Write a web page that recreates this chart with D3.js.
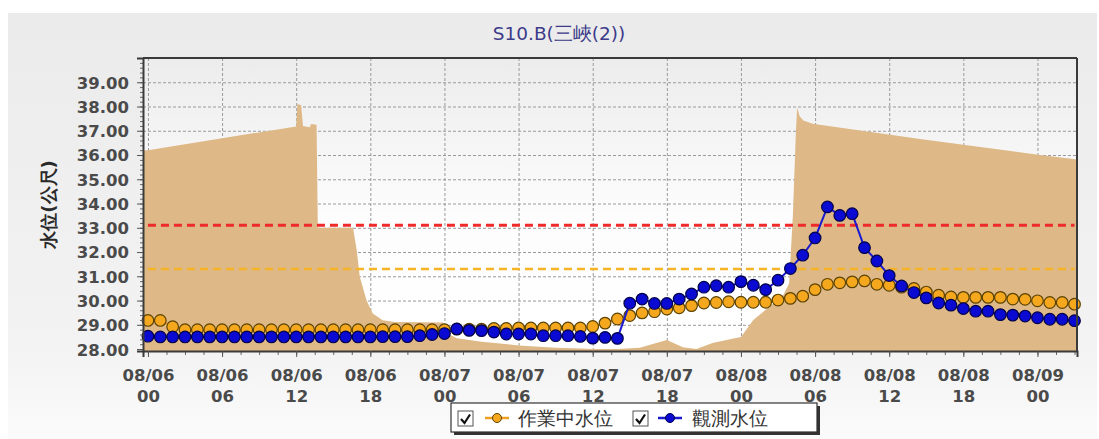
<!DOCTYPE html>
<html>
<head>
<meta charset="utf-8">
<script src="https://cdn.jsdelivr.net/npm/d3@7"></script>
<style>
  html, body { margin: 0; padding: 0; background: #ffffff; }
  svg { display: block; }
  text { font-family: "DejaVu Sans", Verdana, sans-serif; }
</style>
</head>
<body>
<svg id="chart" width="1099" height="439"></svg>
<script>
// ---------------- data ----------------
const title = "S10.B(三峽(2))";
const yLabel = "水位(公尺)";
const seriesNames = ["作業中水位", "觀測水位"];

// hours since 08/06 00:00, hourly points
const hours = d3.range(0, 76);

const workLevel = [
  29.18, 29.18, 28.92, 28.80, 28.80, 28.80, 28.80, 28.80, 28.80, 28.80,
  28.80, 28.80, 28.80, 28.80, 28.80, 28.80, 28.80, 28.80, 28.80, 28.80,
  28.80, 28.80, 28.80, 28.80, 28.80, 28.82, 28.82, 28.82, 28.85, 28.85,
  28.87, 28.87, 28.87, 28.87, 28.87, 28.87, 28.93, 29.07, 29.24, 29.38,
  29.49, 29.54, 29.65, 29.70, 29.79, 29.90, 29.92, 29.95, 29.93, 29.93,
  29.93, 30.02, 30.09, 30.18, 30.45, 30.67, 30.73, 30.77, 30.81, 30.67,
  30.63, 30.55, 30.50, 30.35, 30.22, 30.15, 30.13, 30.13, 30.13, 30.13,
  30.06, 30.05, 29.99, 29.92, 29.92, 29.85
];

const observedLevel = [
  28.53, 28.50, 28.50, 28.50, 28.50, 28.50, 28.50, 28.50, 28.50, 28.50,
  28.50, 28.50, 28.50, 28.50, 28.50, 28.50, 28.50, 28.50, 28.50, 28.51,
  28.51, 28.51, 28.55, 28.60, 28.64, 28.83, 28.77, 28.76, 28.70, 28.62,
  28.62, 28.62, 28.55, 28.55, 28.55, 28.52, 28.45, 28.48, 28.44, 29.89,
  30.06, 29.88, 29.88, 30.06, 30.27, 30.55, 30.61, 30.55, 30.78, 30.63,
  30.45, 30.84, 31.32, 31.87, 32.58, 33.86, 33.51, 33.58, 32.18, 31.63,
  31.03, 30.60, 30.33, 30.11, 29.90, 29.81, 29.67, 29.56, 29.56, 29.42,
  29.40, 29.36, 29.29, 29.23, 29.23, 29.17
];

// background (unlabelled) area series: hour, value
const areaHours = [
  -0.4, 0, 12.0, 12.1, 12.4, 12.55, 13.1, 13.2, 13.65, 13.75,
  16.6, 16.9, 17.15, 17.7, 18.2, 19.0, 20.0, 23.9, 24.1, 24.6,
  25.0, 26.0, 27.0, 28.5, 30.0, 31.0, 33.0, 35.0, 36.0, 38.0,
  39.8, 42.0, 43.3, 44.4, 45.7, 47.3, 48.0, 48.5, 49.0, 50.3,
  51.4, 51.9, 52.2, 52.45, 52.55, 52.75, 53.05, 53.8, 62.5, 71.9,
  75.2
];
const areaValues = [
  36.19, 36.20, 37.18, 38.10, 38.05, 37.20, 37.15, 37.28, 37.25, 33.00,
  33.00, 32.07, 30.97, 30.00, 29.47, 29.19, 29.12, 29.10, 28.60, 28.55,
  28.45, 28.37, 28.30, 28.23, 28.15, 28.12, 28.05, 28.02, 28.00, 28.00,
  28.05, 28.37, 28.07, 28.00, 28.25, 28.42, 28.50, 28.85, 29.20, 29.74,
  30.20, 30.70, 33.50, 37.00, 37.95, 37.60, 37.42, 37.29, 36.66, 36.02,
  35.82
];

// threshold lines
const warnLevels = [33.1, 31.3];
const warnColors = ["#ee2a2a", "#f5b325"];

// axis ticks
const yTicks = [28, 29, 30, 31, 32, 33, 34, 35, 36, 37, 38, 39];
const xTickHours = [0, 6, 12, 18, 24, 30, 36, 42, 48, 54, 60, 66, 72];
const xTickDates = ["08/06","08/06","08/06","08/06","08/07","08/07","08/07","08/07","08/08","08/08","08/08","08/08","08/09"];
const xTickTimes = ["00","06","12","18","00","06","12","18","00","06","12","18","00"];

// ---------------- layout ----------------
const svg = d3.select("#chart");
const plot = { left: 143, right: 1077, top: 58, bottom: 351 };

const x = d3.scaleLinear().domain([-0.4, 75.2]).range([plot.left, plot.right]);
const y = d3.scaleLinear().domain([27.92, 40]).range([plot.bottom, plot.top]);

const defs = svg.append("defs");
const bgGrad = defs.append("linearGradient").attr("id", "bgGrad").attr("x1", 0).attr("y1", 0).attr("x2", 0).attr("y2", 1);
bgGrad.append("stop").attr("offset", "0%").attr("stop-color", "#ebebeb");
bgGrad.append("stop").attr("offset", "80%").attr("stop-color", "#f3f3f3");
bgGrad.append("stop").attr("offset", "100%").attr("stop-color", "#fbfbfb");
const plotGrad = defs.append("linearGradient").attr("id", "plotGrad").attr("x1", 0).attr("y1", 0).attr("x2", 0).attr("y2", 1);
plotGrad.append("stop").attr("offset", "0%").attr("stop-color", "#ececec");
plotGrad.append("stop").attr("offset", "55%").attr("stop-color", "#fdfdfd");
plotGrad.append("stop").attr("offset", "100%").attr("stop-color", "#ffffff");

// outer panel
svg.append("rect").attr("x", 8).attr("y", 13).attr("width", 1089).attr("height", 426).attr("fill", "url(#bgGrad)");

// plot background
svg.append("rect")
  .attr("x", plot.left).attr("y", plot.top)
  .attr("width", plot.right - plot.left).attr("height", plot.bottom - plot.top)
  .attr("fill", "url(#plotGrad)");

// gridlines
const gridY = svg.append("g").attr("transform", `translate(${plot.left},0)`)
  .call(d3.axisLeft(y).tickValues(yTicks.concat([40])).tickSize(-(plot.right - plot.left)).tickFormat(""));
gridY.select(".domain").remove();
gridY.selectAll("line").attr("stroke", "#9a9a9a").attr("stroke-width", 1).attr("stroke-dasharray", "3,2");

const gridX = svg.append("g").attr("transform", `translate(0,${plot.bottom})`)
  .call(d3.axisBottom(x).tickValues(xTickHours).tickSize(-(plot.bottom - plot.top)).tickFormat(""));
gridX.select(".domain").remove();
gridX.selectAll("line").attr("stroke", "#9a9a9a").attr("stroke-width", 1).attr("stroke-dasharray", "3,2");

// area
const areaData = areaHours.map((h, i) => ({ h, v: areaValues[i] }));
svg.append("path")
  .datum(areaData)
  .attr("fill", "#deb887")
  .attr("d", d3.area().x(d => x(d.h)).y0(y(27.92)).y1(d => y(d.v)));

// threshold dashed lines
warnLevels.forEach((lv, i) => {
  svg.append("line")
    .attr("x1", x(0)).attr("x2", x(75))
    .attr("y1", y(lv)).attr("y2", y(lv))
    .attr("stroke", warnColors[i])
    .attr("stroke-width", i === 0 ? 3 : 2.5)
    .attr("stroke-dasharray", "8,5");
});

// series
function drawSeries(vals, lineColor, fill, stroke) {
  const data = hours.map((h, i) => ({ h, v: vals[i] }));
  svg.append("path").datum(data)
    .attr("fill", "none").attr("stroke", lineColor).attr("stroke-width", 2)
    .attr("d", d3.line().x(d => x(d.h)).y(d => y(d.v)));
  svg.append("g").selectAll("circle").data(data).join("circle")
    .attr("cx", d => x(d.h)).attr("cy", d => y(d.v)).attr("r", 5.8)
    .attr("fill", fill).attr("stroke", stroke).attr("stroke-width", 1.2);
}
drawSeries(workLevel, "#f0a020", "#f5a81e", "#5c4300");
drawSeries(observedLevel, "#1a1ad0", "#0a0ad2", "#00004a");

// plot frame (top, right)
svg.append("line").attr("x1", plot.left).attr("x2", plot.right).attr("y1", plot.top).attr("y2", plot.top)
  .attr("stroke", "#3a3a3a").attr("stroke-width", 2);
svg.append("line").attr("x1", plot.right).attr("x2", plot.right).attr("y1", plot.top).attr("y2", plot.bottom)
  .attr("stroke", "#3a3a3a").attr("stroke-width", 2);

// y axis
const yMinor = svg.append("g").attr("transform", `translate(${plot.left},0)`)
  .call(d3.axisLeft(y).tickValues(d3.range(28, 40.01, 0.2)).tickSize(3).tickFormat(""));
yMinor.select(".domain").remove();
yMinor.selectAll("line").attr("stroke", "#666");

const yAxis = svg.append("g").attr("transform", `translate(${plot.left},0)`)
  .call(d3.axisLeft(y).tickValues(yTicks).tickSize(6).tickPadding(8).tickFormat(d3.format(".2f")));
yAxis.select(".domain").attr("stroke", "#3a3a3a").attr("stroke-width", 2);
yAxis.selectAll("line").attr("stroke", "#555");
yAxis.selectAll("text").attr("font-size", 16.5).attr("font-weight", "bold").attr("fill", "#4a4a4a").attr("dy", "0.36em");

// x axis
const xMinor = svg.append("g").attr("transform", `translate(0,${plot.bottom})`)
  .call(d3.axisBottom(x).tickValues(d3.range(0, 75.1, 1.5)).tickSize(4).tickFormat(""));
xMinor.select(".domain").remove();
xMinor.selectAll("line").attr("stroke", "#666");

const xAxis = svg.append("g").attr("transform", `translate(0,${plot.bottom})`)
  .call(d3.axisBottom(x).tickValues(xTickHours).tickSize(6).tickFormat(""));
xAxis.select(".domain").attr("stroke", "#3a3a3a").attr("stroke-width", 2);
xAxis.selectAll("line").attr("stroke", "#555");
xAxis.selectAll(".tick").each(function(d, i) {
  const t = d3.select(this).append("text")
    .attr("text-anchor", "middle").attr("font-size", 16.5).attr("font-weight", "bold").attr("fill", "#4a4a4a");
  t.append("tspan").attr("x", 0).attr("y", 30).text(xTickDates[i]);
  t.append("tspan").attr("x", 0).attr("y", 51).text(xTickTimes[i]);
});

// title
svg.append("text")
  .attr("x", 559).attr("y", 40).attr("text-anchor", "middle")
  .attr("font-size", 18.5).attr("fill", "#3d3b8a")
  .text(title);

// y label
svg.append("text")
  .attr("transform", `translate(55,${(plot.top + plot.bottom) / 2}) rotate(-90)`)
  .attr("text-anchor", "middle")
  .attr("font-family", "'Noto Sans CJK TC', 'Noto Sans CJK SC', sans-serif")
  .attr("font-size", 18).attr("font-weight", "bold").attr("fill", "#2a2a2a")
  .text(yLabel);

// legend
const lg = svg.append("g");
lg.append("rect").attr("x", 454).attr("y", 406).attr("width", 366).attr("height", 29).attr("fill", "#333");
lg.append("rect").attr("x", 451).attr("y", 403).attr("width", 366).attr("height", 29)
  .attr("fill", "#ffffff").attr("stroke", "#333").attr("stroke-width", 1.2);

const legendItems = [
  { name: seriesNames[0], box: 458, mark: 497, text: 518, line: "#f0a020", fill: "#f5a81e", stroke: "#5c4300" },
  { name: seriesNames[1], box: 633, mark: 670, text: 692, line: "#1a1ad0", fill: "#0a0ad2", stroke: "#00004a" }
];
legendItems.forEach(it => {
  lg.append("rect").attr("x", it.box).attr("y", 411).attr("width", 15).attr("height", 15)
    .attr("fill", "#fff").attr("stroke", "#555").attr("stroke-width", 1);
  lg.append("path").attr("d", `M${it.box + 3},${419} L${it.box + 6.5},${423} L${it.box + 12},${414.5}`)
    .attr("fill", "none").attr("stroke", "#111").attr("stroke-width", 2.2);
  lg.append("line").attr("x1", it.mark - 12).attr("x2", it.mark + 12).attr("y1", 418).attr("y2", 418)
    .attr("stroke", it.line).attr("stroke-width", 2.5);
  lg.append("circle").attr("cx", it.mark).attr("cy", 418).attr("r", 4.5)
    .attr("fill", it.fill).attr("stroke", it.stroke).attr("stroke-width", 1);
  lg.append("text").attr("x", it.text).attr("y", 425)
    .attr("font-family", "'Noto Sans CJK TC', 'Noto Sans CJK SC', sans-serif")
    .attr("font-size", 19).attr("font-weight", 500).attr("fill", "#333").text(it.name);
});
</script>
</body>
</html>
